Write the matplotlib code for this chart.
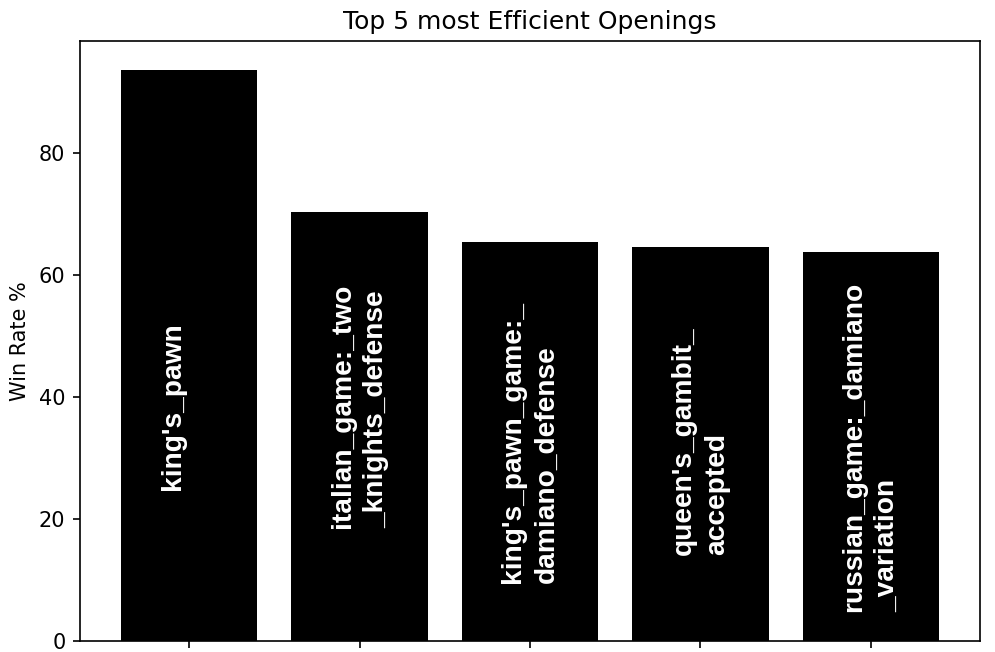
import matplotlib
matplotlib.use('Agg')
import matplotlib.pyplot as plt
import numpy as np

# openings and their win rate
openings = ["king's_pawn\n",
            "italian_game:_two\n_knights_defense",
            "king's_pawn_game:_\ndamiano_defense",
            "queen's_gambit_\naccepted",
            "russian_game:_damiano\n_variation"]
win_rate = [93.6, 70.2, 65.4, 64.5, 63.8]

# where each label starts (bottom of the rotated text), in data units
label_start = [24.7, 18.5, 9.5, 14.1, 4.7]

fig, ax = plt.subplots(figsize=(995/150, 652/150), dpi=150)
fig.subplots_adjust(left=80/995, right=980/995, bottom=11/652, top=611/652)

x = np.arange(len(openings))
ax.bar(x, win_rate, color='black', width=0.8)

for xi, lab, y0 in zip(x, openings, label_start):
    ax.text(xi, y0, lab, rotation=90, rotation_mode='anchor',
            ha='left', va='center', multialignment='left',
            linespacing=1.35,
            color='white', fontsize=13.5, fontweight='bold',
            family=['Liberation Sans', 'DejaVu Sans'])

ax.set_xticks(x)
ax.set_xticklabels([''] * len(x))
ax.set_ylabel('Win Rate %')
ax.set_title('Top 5 most Efficient Openings')

fig.savefig('out.png', dpi=150)
